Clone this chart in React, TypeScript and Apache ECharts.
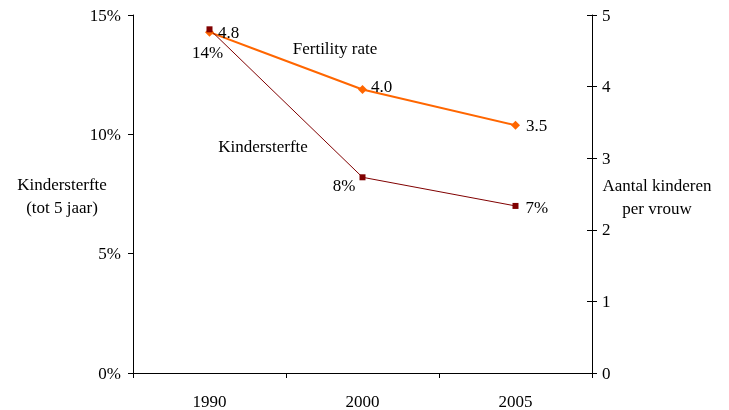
import React, { useEffect, useRef } from "react";
import * as echarts from "echarts";

const years = ["1990", "2000", "2005"];
const childMortality = [14.4, 8.2, 7.0];
const fertilityRate = [4.76, 3.96, 3.46];
const leftTicks = { min: 0, max: 15, interval: 5 };
const rightTicks = { min: 0, max: 5, interval: 1 };

const FONT = "Liberation Serif";
const FS = 17;

export default function App() {
  const ref = useRef<HTMLDivElement>(null);
  useEffect(() => {
    const chart = echarts.init(ref.current!, null, { renderer: "svg" });
    const mortLabelCfg = [
      { position: "bottom", distance: 12, offset: [-2, 0] },
      { position: "left", distance: 4, offset: [0, 8] },
      { position: "right", distance: 7, offset: [0, 2] },
    ];
    const fertLabelCfg = [
      { position: "right", distance: 4, offset: [0, 0] },
      { position: "right", distance: 4, offset: [0, -3] },
      { position: "right", distance: 6, offset: [0, 0] },
    ];
    chart.setOption({
      animation: false,
      textStyle: { fontFamily: FONT, fontSize: FS, color: "#000" },
      grid: { left: 133, right: 137, top: 15, bottom: 34 },
      xAxis: {
        type: "category",
        data: years,
        boundaryGap: true,
        axisLine: { lineStyle: { color: "#000", width: 1 } },
        axisTick: { show: true, length: 5, lineStyle: { color: "#000" } },
        axisLabel: { color: "#000", fontFamily: FONT, fontSize: FS, margin: 20 },
        splitLine: { show: false },
      },
      yAxis: [
        {
          type: "value",
          position: "left",
          ...leftTicks,
          axisLine: { show: true, lineStyle: { color: "#000", width: 1 } },
          axisTick: { show: true, length: 5, lineStyle: { color: "#000" } },
          axisLabel: {
            color: "#000",
            fontFamily: FONT,
            fontSize: FS,
            margin: 12,
            formatter: (v: number) => `${v}%`,
          },
          splitLine: { show: false },
        },
        {
          type: "value",
          position: "right",
          ...rightTicks,
          axisLine: { show: true, lineStyle: { color: "#000", width: 1 } },
          axisTick: { show: true, length: 5, lineStyle: { color: "#000" } },
          axisLabel: { color: "#000", fontFamily: FONT, fontSize: FS, margin: 10 },
          splitLine: { show: false },
        },
        {
          type: "value",
          position: "right",
          ...rightTicks,
          axisLine: { show: false },
          axisTick: { show: true, inside: true, length: 5, lineStyle: { color: "#000" } },
          axisLabel: { show: false },
          splitLine: { show: false },
        },
      ],
      series: [
        {
          name: "Fertility rate",
          type: "line",
          yAxisIndex: 1,
          data: fertilityRate.map((v, i) => ({
            value: v,
            label: {
              show: true,
              position: fertLabelCfg[i].position,
              distance: fertLabelCfg[i].distance,
              offset: fertLabelCfg[i].offset,
              formatter: () => v.toFixed(1),
              color: "#000",
              fontFamily: FONT,
              fontSize: FS,
            },
          })),
          symbol: "diamond",
          symbolSize: 9,
          itemStyle: { color: "#FF6600" },
          lineStyle: { color: "#FF6600", width: 2 },
        },
        {
          name: "Kindersterfte",
          type: "line",
          yAxisIndex: 0,
          data: childMortality.map((v, i) => ({
            value: v,
            label: {
              show: true,
              position: mortLabelCfg[i].position,
              distance: mortLabelCfg[i].distance,
              offset: mortLabelCfg[i].offset,
              formatter: () => `${Math.round(v)}%`,
              color: "#000",
              fontFamily: FONT,
              fontSize: FS,
            },
          })),
          symbol: "rect",
          symbolSize: 6,
          itemStyle: { color: "#800000" },
          lineStyle: { color: "#800000", width: 1 },
        },
      ],
      graphic: [
        {
          type: "text",
          x: 62,
          y: 196,
          style: {
            text: "Kindersterfte\n(tot 5 jaar)",
            align: "center",
            verticalAlign: "middle",
            fontFamily: FONT,
            fontSize: FS,
            lineHeight: 23,
            fill: "#000",
          },
        },
        {
          type: "text",
          x: 657,
          y: 197,
          style: {
            text: "Aantal kinderen\nper vrouw",
            align: "center",
            verticalAlign: "middle",
            fontFamily: FONT,
            fontSize: FS,
            lineHeight: 23,
            fill: "#000",
          },
        },
        {
          type: "text",
          x: 335,
          y: 48,
          style: {
            text: "Fertility rate",
            align: "center",
            verticalAlign: "middle",
            fontFamily: FONT,
            fontSize: FS,
            fill: "#000",
          },
        },
        {
          type: "text",
          x: 263,
          y: 146,
          style: {
            text: "Kindersterfte",
            align: "center",
            verticalAlign: "middle",
            fontFamily: FONT,
            fontSize: FS,
            fill: "#000",
          },
        },
      ],
    });
    return () => chart.dispose();
  }, []);
  return (
    <div
      ref={ref}
      style={{ position: "fixed", left: 0, top: 0, width: 729, height: 410 }}
    />
  );
}
